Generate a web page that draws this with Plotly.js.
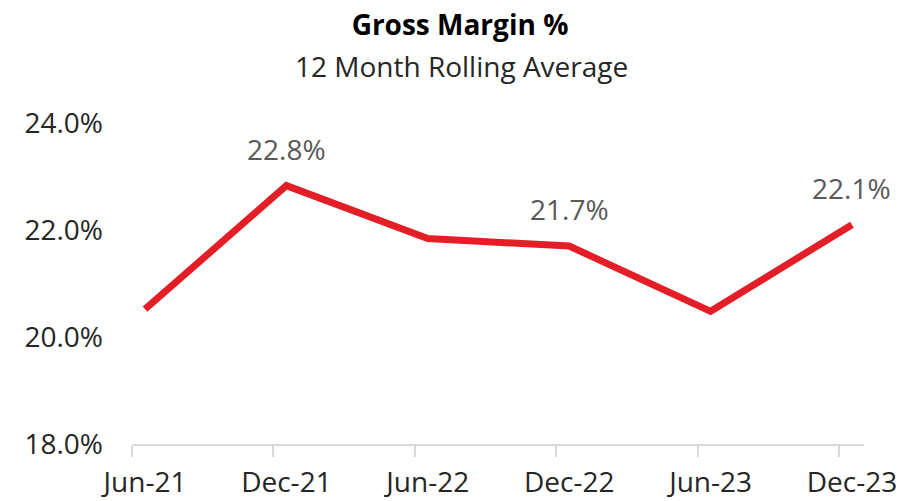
<!DOCTYPE html>
<html>
<head>
<meta charset="utf-8">
<script src="https://cdn.plot.ly/plotly-3.0.1.min.js"></script>
<style>html,body{margin:0;padding:0;background:#fff;}#chart{width:916px;height:501px;}</style>
</head>
<body>
<div id="chart"></div>
<script>
const categories = ['Jun-21', 'Dec-21', 'Jun-22', 'Dec-22', 'Jun-23', 'Dec-23'];
const marginPct = [20.52, 22.83, 21.84, 21.70, 20.48, 22.10];
const pointLabels = ['', '22.8%', '', '21.7%', '', '22.1%'];
const yTickVals = [18, 20, 22, 24];
const yTickText = ['18.0%', '20.0%', '22.0%', '24.0%'];

const idx = categories.map((c, i) => i);
const FONT = '"Open Sans", "Noto Sans", sans-serif';

const trace = {
  type: 'scatter',
  mode: 'lines',
  x: idx,
  y: marginPct,
  line: { color: '#E31E26', width: 7 },
  hoverinfo: 'skip'
};

const annotations = idx
  .filter(i => pointLabels[i] !== '')
  .map(i => ({
    x: i, y: marginPct[i], xref: 'x', yref: 'y',
    text: pointLabels[i], showarrow: false,
    xanchor: 'center', yanchor: 'bottom', yshift: 16,
    font: { family: FONT, size: 28, color: '#595959' }
  }));

annotations.push({
  xref: 'paper', yref: 'paper', x: (461 - 132) / 732, y: 1, yanchor: 'middle', yshift: 57,
  text: '12 Month Rolling Average', showarrow: false,
  font: { family: FONT, size: 28, color: '#262626' }
});

const layout = {
  width: 916, height: 501,
  margin: { l: 132, r: 52, t: 123, b: 57 },
  paper_bgcolor: '#ffffff', plot_bgcolor: '#ffffff',
  showlegend: false,
  title: {
    text: '<b>Gross Margin %</b>',
    x: 460 / 916, xref: 'container', xanchor: 'center',
    y: 1 - 25 / 501, yref: 'container', yanchor: 'middle',
    font: { family: FONT, size: 28, color: '#000000' }
  },
  xaxis: {
    type: 'linear',
    range: [-0.092, 5.085],
    tickmode: 'array', tickvals: idx, ticktext: categories,
    ticks: '', showgrid: false, zeroline: false,
    showline: true, linecolor: '#D9D9D9', linewidth: 2,
    ticklabelstandoff: 12,
    tickfont: { family: FONT, size: 28, color: '#262626' },
    minor: { ticks: 'outside', tick0: -0.092, dtick: 1, ticklen: 11, tickwidth: 2, tickcolor: '#D9D9D9', showgrid: false }
  },
  yaxis: {
    range: [18, 24],
    tickmode: 'array', tickvals: yTickVals, ticktext: yTickText,
    ticks: '', showgrid: false, zeroline: false, showline: false,
    ticklabelstandoff: 28,
    tickfont: { family: FONT, size: 28, color: '#262626' }
  },
  annotations: annotations
};

Plotly.newPlot('chart', [trace], layout, { displayModeBar: false, staticPlot: true });
</script>
</body>
</html>
